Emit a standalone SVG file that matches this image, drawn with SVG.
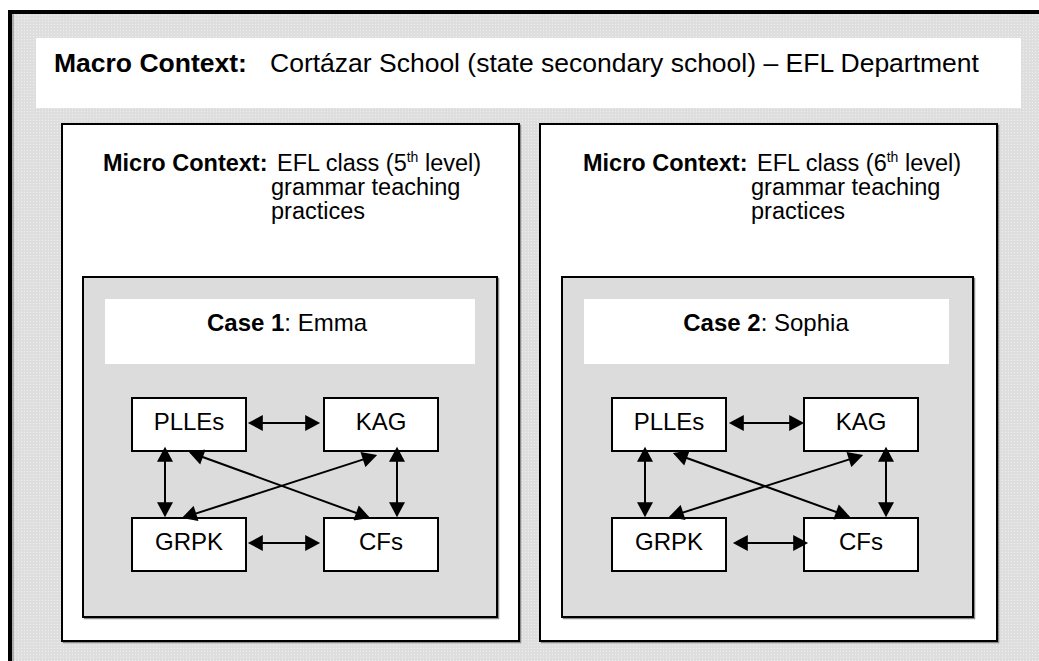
<svg xmlns="http://www.w3.org/2000/svg" width="1039" height="661" viewBox="0 0 1039 661">
<style>
text{font-family:"Liberation Sans",Arial,sans-serif;fill:#000}
.b{font-weight:bold}
.mac{font-size:26.5px}
.mic{font-size:24px}
.mc{font-size:23.5px}
.node rect{fill:#fff;stroke:#000;stroke-width:2}
.node text{font-size:24px;text-anchor:middle}
.panel{fill:#dcdcdc;stroke:#000;stroke-width:2}
.micro{fill:#fff;stroke:#000;stroke-width:2}
.shadow{fill:none;stroke:#8a8a8a;stroke-width:1.5}
.conn line{stroke:#000;stroke-width:2;marker-start:url(#ah);marker-end:url(#ah)}
</style>
<defs>
<pattern id="dots" width="3" height="3" patternUnits="userSpaceOnUse">
<rect width="3" height="3" fill="#dedede"/>
<rect width="1" height="1" fill="#eeeeee"/>
</pattern>
<marker id="ah" markerUnits="userSpaceOnUse" markerWidth="16" markerHeight="16" refX="12" refY="7.5" orient="auto-start-reverse" viewBox="0 0 14 15">
<path d="M0,0 L14,7.5 L0,15 z" fill="#000"/>
</marker>
</defs>
<rect width="1039" height="661" fill="#fff"/>
<rect x="10" y="12" width="1040" height="660" fill="url(#dots)" stroke="#000" stroke-width="4"/>
<line x1="13" y1="14" x2="13" y2="661" stroke="#9a9a9a" stroke-width="1.5"/>

<g id="macro">
<rect x="36" y="38" width="985" height="70" fill="#fff"/>
<text class="mac" y="72"><tspan x="54" class="b">Macro Context:</tspan><tspan x="270">Cortázar School (state secondary school) – EFL Department</tspan></text>
</g>

<g id="micro1">
<rect class="shadow" x="63.5" y="125.5" width="457" height="517"/>
<rect class="micro" x="62" y="124" width="457" height="517"/>
<text class="mc" y="171"><tspan x="103" class="b">Micro Context:</tspan><tspan x="277">EFL class (5</tspan><tspan font-size="14" dy="-9">th</tspan><tspan dy="9"> level)</tspan></text>
<text class="mc" x="271" y="195">grammar teaching</text>
<text class="mc" x="271" y="219">practices</text>
</g>

<g id="micro2">
<rect class="shadow" x="541.5" y="125.5" width="457" height="517"/>
<rect class="micro" x="540" y="124" width="457" height="517"/>
<text class="mc" y="171"><tspan x="583" class="b">Micro Context:</tspan><tspan x="757">EFL class (6</tspan><tspan font-size="14" dy="-9">th</tspan><tspan dy="9"> level)</tspan></text>
<text class="mc" x="751" y="195">grammar teaching</text>
<text class="mc" x="751" y="219">practices</text>
</g>

<g id="case1">
<rect class="shadow" x="84.5" y="278.5" width="414" height="340"/>
<rect class="panel" x="83" y="277" width="414" height="340"/>
<rect x="105" y="299" width="370" height="65" fill="#fff"/>
<text class="mic" x="287" y="331" text-anchor="middle"><tspan class="b">Case 1</tspan>: Emma</text>
</g>

<g id="case2">
<rect class="shadow" x="563.5" y="278.5" width="411" height="340"/>
<rect class="panel" x="562" y="277" width="411" height="340"/>
<rect x="584" y="299" width="365" height="65" fill="#fff"/>
<text class="mic" x="766" y="331" text-anchor="middle"><tspan class="b">Case 2</tspan>: Sophia</text>
</g>

<g id="c1-plles" class="node"><rect x="132" y="398" width="114" height="53"/><text x="189" y="430">PLLEs</text></g>
<g id="c1-kag" class="node"><rect x="324" y="398" width="114" height="53"/><text x="381" y="430">KAG</text></g>
<g id="c1-grpk" class="node"><rect x="132" y="518" width="114" height="53"/><text x="189" y="550">GRPK</text></g>
<g id="c1-cfs" class="node"><rect x="324" y="518" width="114" height="53"/><text x="381" y="550">CFs</text></g>

<g id="c2-plles" class="node"><rect x="612" y="398" width="114" height="53"/><text x="669" y="430">PLLEs</text></g>
<g id="c2-kag" class="node"><rect x="804" y="398" width="114" height="53"/><text x="861" y="430">KAG</text></g>
<g id="c2-grpk" class="node"><rect x="612" y="518" width="114" height="53"/><text x="669" y="550">GRPK</text></g>
<g id="c2-cfs" class="node"><rect x="804" y="518" width="114" height="53"/><text x="861" y="550">CFs</text></g>

<g id="connectors" class="conn">
<line x1="250" y1="423" x2="318" y2="423"/>
<line x1="250" y1="543" x2="318" y2="543"/>
<line x1="165" y1="449" x2="165" y2="515"/>
<line x1="397" y1="449" x2="397" y2="515"/>
<line x1="190.9" y1="452.7" x2="368.1" y2="517.3"/>
<line x1="375.1" y1="455.6" x2="183.9" y2="517.4"/>

<line x1="731" y1="423" x2="802" y2="423"/>
<line x1="735" y1="543" x2="806" y2="543"/>
<line x1="645" y1="449" x2="645" y2="515"/>
<line x1="886" y1="449" x2="886" y2="515"/>
<line x1="674.9" y1="453.7" x2="848.1" y2="516.3"/>
<line x1="861.1" y1="455.6" x2="670.9" y2="516.4"/>
</g>
</svg>
